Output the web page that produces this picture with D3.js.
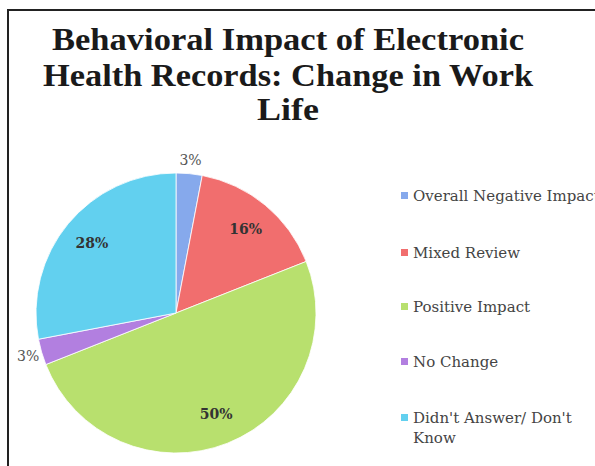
<!DOCTYPE html>
<html><head><meta charset="utf-8">
<script src="https://cdn.jsdelivr.net/npm/d3@7"></script>
<style>html,body{margin:0;padding:0;background:#fff;}svg{display:block;}</style>
</head><body>
<svg id="chart" width="595" height="466"></svg>
<script>
const titleLines = ["Behavioral Impact of Electronic", "Health Records: Change in Work", "Life"];
const categories = ["Overall Negative Impact", "Mixed Review", "Positive Impact", "No Change", "Didn't Answer/ Don't Know"];
const values = [3, 16, 50, 3, 28];
const valueLabels = ["3%", "16%", "50%", "3%", "28%"];
const colors = ["#86a9ec", "#f16e6e", "#b8e06e", "#b27fe0", "#62d0ef"];

const svg = d3.select("#chart");
// frame
svg.append("line").attr("x1", 8).attr("y1", 10).attr("x2", 595).attr("y2", 10).attr("stroke", "#222").attr("stroke-width", 2);
svg.append("line").attr("x1", 8).attr("y1", 9).attr("x2", 8).attr("y2", 466).attr("stroke", "#222").attr("stroke-width", 2);

// title
const titleY = [50, 86, 120];
const titleW = [472, 490, 62];
svg.selectAll("text.title").data(titleLines).join("text")
  .attr("class", "title")
  .attr("x", 288).attr("y", (d, i) => titleY[i])
  .attr("text-anchor", "middle")
  .attr("font-family", "'Liberation Serif', 'DejaVu Serif', serif")
  .attr("font-weight", "bold").attr("font-size", 31)
  .attr("fill", "#1a1a1a")
  .attr("textLength", (d, i) => titleW[i])
  .attr("lengthAdjust", "spacingAndGlyphs")
  .text(d => d);

// pie
const cx = 176, cy = 313, r = 140;
const pie = d3.pie().sort(null).value(d => d)(values);
const arc = d3.arc().innerRadius(0).outerRadius(r);
const g = svg.append("g").attr("transform", `translate(${cx},${cy})`);
g.selectAll("path").data(pie).join("path")
  .attr("d", arc)
  .attr("fill", (d, i) => colors[i])
  .attr("stroke", "#fff").attr("stroke-width", 0.8);

// labels
const insideArc = d3.arc().innerRadius(r * 0.78).outerRadius(r * 0.78);
const outsideArc = d3.arc().innerRadius(r * 1.1).outerRadius(r * 1.1);
g.selectAll("text.lbl").data(pie).join("text")
  .attr("class", "lbl")
  .attr("transform", (d, i) => {
    const p = (values[i] < 5 ? outsideArc : insideArc).centroid(d);
    return `translate(${p[0]},${p[1]})`;
  })
  .attr("text-anchor", "middle").attr("dy", "0.35em")
  .attr("font-family", "'DejaVu Serif', 'Liberation Serif', serif")
  .attr("font-size", 14)
  .attr("font-weight", (d, i) => values[i] < 5 ? "normal" : "bold")
  .attr("fill", (d, i) => values[i] < 5 ? "#555" : "#333")
  .text((d, i) => valueLabels[i]);

// legend
const legendY = [196, 253, 307, 362, 418];
const lg = svg.append("g");
const items = lg.selectAll("g").data(categories).join("g")
  .attr("transform", (d, i) => `translate(401,${legendY[i]})`);
items.append("rect").attr("x", 0).attr("y", -4).attr("width", 7).attr("height", 7)
  .attr("fill", (d, i) => colors[i]);
items.append("text")
  .attr("x", 12).attr("y", 0).attr("dy", "0.35em")
  .attr("font-family", "'DejaVu Serif', 'Liberation Serif', serif")
  .attr("font-size", 15).attr("fill", "#444")
  .each(function(d) {
    const t = d3.select(this);
    if (d === "Didn't Answer/ Don't Know") {
      t.append("tspan").attr("x", 12).text("Didn't Answer/ Don't");
      t.append("tspan").attr("x", 12).attr("dy", "1.3em").text("Know");
    } else {
      t.text(d);
    }
  });
</script>
</body></html>
